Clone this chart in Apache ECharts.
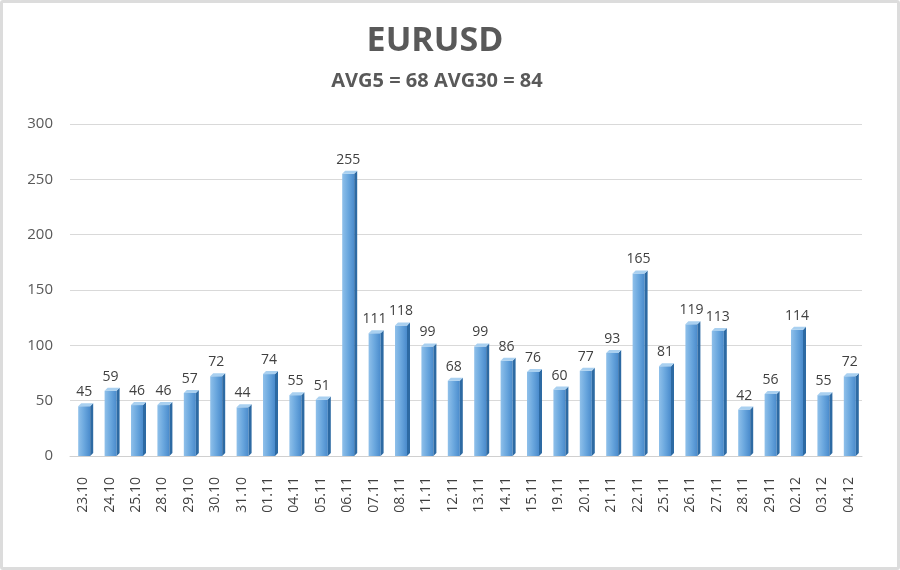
<!DOCTYPE html>
<html><head><meta charset="utf-8">
<script src="https://cdn.jsdelivr.net/npm/echarts@6/dist/echarts.min.js"></script>
<style>
html,body{margin:0;padding:0;background:#fff;}
#wrap{position:absolute;left:0;top:0;width:894px;height:564px;border:3px solid #dcdcdc;border-radius:3px;}
#c{position:absolute;left:-3px;top:-3px;width:900px;height:570px;}
</style></head>
<body><div id="wrap"><div id="c"></div></div>
<script>
var categories = ['23.10','24.10','25.10','28.10','29.10','30.10','31.10','01.11','04.11','05.11','06.11','07.11','08.11','11.11','12.11','13.11','14.11','15.11','19.11','20.11','21.11','22.11','25.11','26.11','27.11','28.11','29.11','02.12','03.12','04.12'];
var values = [45,59,46,46,57,72,44,74,55,51,255,111,118,99,68,99,86,76,60,77,93,165,81,119,113,42,56,114,55,72];
var yTicks = [0,50,100,150,200,250,300];
var titleText = 'EURUSD';
var subText = 'AVG5 = 68 AVG30 = 84';

var chart = echarts.init(document.getElementById('c'));
var font = '"Open Sans", "Noto Sans", sans-serif';
chart.setOption({
  animation:false,
  title:[
    {text:titleText,left:430,top:19,textAlign:'center',textStyle:{fontFamily:font,fontSize:34,fontWeight:'bold',color:'#595959'}},
    {text:subText,left:432,top:66,textAlign:'center',textStyle:{fontFamily:font,fontSize:20,fontWeight:'bold',color:'#595959'}}
  ],
  grid:{left:70,right:38,top:124,bottom:114},
  xAxis:{type:'category',data:categories,
    axisLine:{show:true,lineStyle:{color:'#d0d0d0'}},axisTick:{show:false},
    axisLabel:{rotate:90,margin:21,fontFamily:font,fontSize:14,color:'#404040',interval:0}},
  yAxis:{type:'value',min:0,max:300,interval:50,
    axisLine:{show:false},axisTick:{show:false},
    splitLine:{lineStyle:{color:'#d9d9d9'}},
    axisLabel:{margin:17,fontFamily:font,fontSize:15,color:'#595959'}},
  series:[{
    type:'custom',
    data:values.map(function(v,i){return [i,v];}),
    renderItem:function(params,api){
      var top = api.coord([api.value(0),api.value(1)]);
      var base = api.coord([api.value(0),0]);
      var w = 12, d = 3;
      var x0 = top[0]-w/2+1, y0 = top[1], yb = base[1];
      return {type:'group',children:[
        {type:'rect',shape:{x:x0,y:y0,width:w,height:yb-y0},
          style:{fill:new echarts.graphic.LinearGradient(0,0,1,0,[{offset:0,color:'#8fc0ea'},{offset:0.5,color:'#6aa7de'},{offset:1,color:'#4a8bcc'}])}},
        {type:'polygon',shape:{points:[[x0+w,y0],[x0+w+d,y0-d],[x0+w+d,yb-d],[x0+w,yb]]},style:{fill:'#2d6aa3'}},
        {type:'polygon',shape:{points:[[x0,y0],[x0+d,y0-d],[x0+w+d,y0-d],[x0+w,y0]]},style:{fill:'#a9d0f0'}},
        {type:'text',style:{text:String(api.value(1)),x:top[0]+1,y:y0-7,textAlign:'center',textVerticalAlign:'bottom',font:'14px '+font,fill:'#404040'}}
      ]};
    }
  }]
});
</script></body></html>
